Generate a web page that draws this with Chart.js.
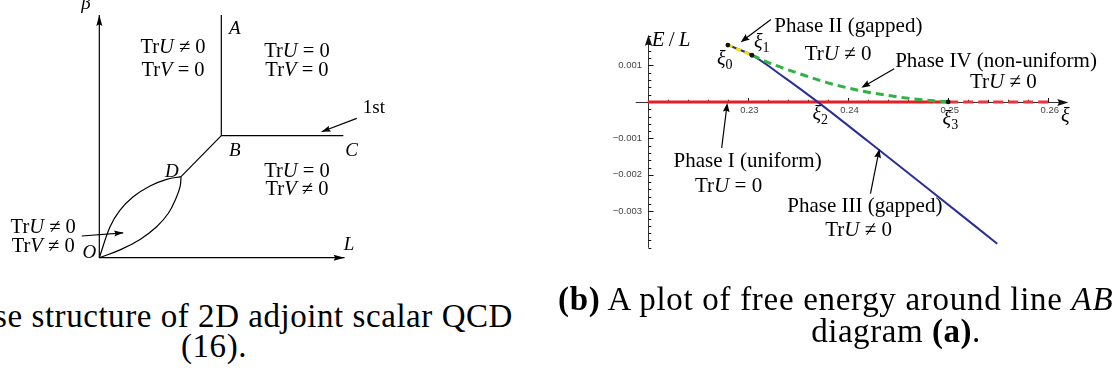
<!DOCTYPE html>
<html><head><meta charset="utf-8">
<script src="https://cdn.jsdelivr.net/npm/chart.js@4.4.0/dist/chart.umd.min.js"></script>
<style>
html,body{margin:0;padding:0;background:#fff;overflow:hidden}
#wrap{position:relative;width:1114px;height:385px;overflow:hidden;background:#fff}
canvas{position:absolute;top:0}
.cap{position:absolute;font-family:"Liberation Serif","Times New Roman",serif;font-size:33px;line-height:33px;letter-spacing:0.55px;white-space:nowrap;color:#000}
</style></head><body>
<div id="wrap">
<canvas id="diagram" width="560" height="290" style="left:0"></canvas>
<canvas id="plot" width="554" height="290" style="left:560px"></canvas>
<div class="cap" style="right:601px;top:300px"><b>(a)</b> Phase structure of 2D adjoint scalar QCD</div>
<div class="cap" style="left:0;width:428px;text-align:center;top:330px">(16).</div>
<div class="cap" style="left:558px;top:283px;letter-spacing:0.7px"><b>(b)</b> A plot of free energy around line <i>AB</i></div>
<div class="cap" style="left:796px;width:200px;text-align:center;top:315px">diagram <b>(a)</b>.</div>
</div>
<script>
// ================= DATA: phase diagram (a) (schematic units) =================
const betaAxis   = [[0,0],[0,9.95]];
const lAxis      = [[0,0],[10.05,0]];
const lineAB     = [[5,9.95],[5,5]];
const lineBC     = [[5,5],[10.0,5]];
const lineBD     = [[5,5],[3.35,3.32]];
const lensUpper  = [[0,0],[0.44,1.27],[0.85,1.95],[1.39,2.50],[2.08,2.94],[2.76,3.21],[3.35,3.32]];
const lensLower  = [[0,0],[0.85,0.32],[1.67,0.75],[2.35,1.27],[2.83,1.82],[3.14,2.43],[3.31,2.91],[3.35,3.32]];
const arrowFirst = [[10.55,5.71],[9.11,5.16]];
const arrowMixed = [[-0.72,0.89],[0.98,1.02]];

// ================= DATA: free energy plot (b) =================
const xiPhaseI     = [0.22, 0.25];
const ePhaseI      = [0, 0];
const xiPhaseIext  = [0.25, 0.2602];
const ePhaseIext   = [0, 0];
const xiPhaseII    = [0.2280, 0.2304];
const ePhaseII     = [0.00156, 0.00128];
const xiPhaseIII   = [0.2280, 0.2304, 0.2337, 0.23696, 0.2420, 0.2480, 0.2549];
const ePhaseIII    = [0.00156, 0.00128, 0.00066, 0, -0.00108, -0.00238, -0.00389];
const xiPhaseIV    = [0.2304, 0.2326, 0.2353, 0.2379, 0.2412, 0.2444, 0.2477, 0.2500];
const ePhaseIV     = [0.00128, 0.00102, 0.00076, 0.00053, 0.00031, 0.00016, 0.00005, 0];
const xiMarked     = [0.2280, 0.2304, 0.2500];
const eMarked      = [0.00156, 0.00128, 0];

const xiTicks      = [0.23, 0.24, 0.25, 0.26];
const xiTickLabels = ['0.23', '0.24', '0.25', '0.26'];
const xiMinorTicks = [0.222,0.224,0.226,0.228,0.232,0.234,0.236,0.238,0.242,0.244,0.246,0.248,0.252,0.254,0.256,0.258];
const eTicks       = [0.001, -0.001, -0.002, -0.003];
const eTickLabels  = ['0.001', '\u22120.001', '\u22120.002', '\u22120.003'];
const eMinorTicks  = [0.0018,0.0016,0.0014,0.0012,0.0008,0.0006,0.0004,0.0002,-0.0002,-0.0004,-0.0006,-0.0008,
                      -0.0012,-0.0014,-0.0016,-0.0018,-0.0022,-0.0024,-0.0026,-0.0028,-0.0032,-0.0034,-0.0036,-0.0038,-0.004];
const xiOrigin = 0.22, xiAxisFrom = 0.2188, xiAxisTo = 0.2620;
const eAxisFrom = -0.004, eAxisTo = 0.00184;

// ================= helpers =================
const SERIF = '"Liberation Serif","Times New Roman",serif';
function fnt(st, size){
  if (st === 'i') return 'italic ' + size + 'px ' + SERIF;
  if (st === 's') return Math.round(size*0.7) + 'px ' + SERIF;
  return size + 'px ' + SERIF;
}
function drawRich(ctx, parts, px, py, size, align){
  ctx.save();
  ctx.textBaseline = 'alphabetic'; ctx.textAlign = 'left'; ctx.fillStyle = '#000';
  let w = 0;
  const ws = parts.map(p => { ctx.font = fnt(p[1], size); const m = ctx.measureText(p[0]).width; w += m; return m; });
  let cx = align === 'center' ? px - w/2 : (align === 'right' ? px - w : px);
  parts.forEach((p, i) => {
    ctx.font = fnt(p[1], size);
    ctx.fillText(p[0], cx, py + (p[1] === 's' ? size*0.22 : 0));
    cx += ws[i];
  });
  ctx.restore();
}
function arrowHead(ctx, x0, y0, x1, y1, len, half, color){
  const a = Math.atan2(y1 - y0, x1 - x0);
  ctx.save(); ctx.translate(x1, y1); ctx.rotate(a);
  ctx.beginPath(); ctx.moveTo(0,0); ctx.lineTo(-len, half); ctx.lineTo(-len*0.85, 0); ctx.lineTo(-len, -half); ctx.closePath();
  ctx.fillStyle = color; ctx.fill(); ctx.restore();
}
const pairs = arr => arr.map(p => ({x:p[0], y:p[1]}));
const zip = (xs, ys) => xs.map((v, i) => ({x:v, y:ys[i]}));
const TRU_NE = [['Tr','n'],['U','i'],[' \u2260 0','n']];
const TRU_EQ = [['Tr','n'],['U','i'],[' = 0','n']];
const TRV_NE = [['Tr','n'],['V','i'],[' \u2260 0','n']];
const TRV_EQ = [['Tr','n'],['V','i'],[' = 0','n']];

// ================= chart (a) =================
const diagramLabels = [
  {x:-0.55, y:10.2, parts:[['\u03b2','i']], size:19},
  {x:5.55, y:9.16, parts:[['A','i']], size:19},
  {x:5.55, y:4.18, parts:[['B','i']], size:19},
  {x:10.34, y:4.18, parts:[['C','i']], size:19},
  {x:2.97, y:3.32, parts:[['D','i']], size:19},
  {x:-0.41, y:0.0, parts:[['O','i']], size:19},
  {x:10.23, y:0.32, parts:[['L','i']], size:19},
  {x:10.8, y:5.92, parts:[['1st','n']], size:19, align:'left'},
  {x:3.02, y:8.38, parts:TRU_NE, size:20.5},
  {x:3.02, y:7.45, parts:TRV_EQ, size:20.5},
  {x:8.10, y:8.24, parts:TRU_EQ, size:20.5},
  {x:8.10, y:7.45, parts:TRV_EQ, size:20.5},
  {x:8.10, y:3.30, parts:TRU_EQ, size:20.5},
  {x:8.10, y:2.57, parts:TRV_NE, size:20.5},
  {x:-2.30, y:1.00, parts:TRU_NE, size:20.5},
  {x:-2.30, y:0.22, parts:TRV_NE, size:20.5}
];
function lineDs(arr, extra){
  return Object.assign({data: pairs(arr), showLine:true, borderColor:'#000', borderWidth:1.2, pointRadius:0, fill:false, tension:0}, extra || {});
}
const diagramPlugin = {
  id:'diagramDeco',
  afterDatasetsDraw(chart){
    const {ctx, scales:{x, y}} = chart;
    chart.data.datasets.forEach(ds => {
      if (!ds.arrow) return;
      const d = ds.data, a = d[d.length-2], b = d[d.length-1];
      arrowHead(ctx, x.getPixelForValue(a.x), y.getPixelForValue(a.y), x.getPixelForValue(b.x), y.getPixelForValue(b.y), ds.arrow[0], ds.arrow[1], '#000');
    });
    diagramLabels.forEach(l => drawRich(ctx, l.parts, x.getPixelForValue(l.x), y.getPixelForValue(l.y), l.size, l.align || 'center'));
  }
};
new Chart(document.getElementById('diagram'), {
  type:'scatter',
  data:{datasets:[
    lineDs(betaAxis, {arrow:[11,3]}),
    lineDs(lAxis, {arrow:[11,3]}),
    lineDs(lineAB), lineDs(lineBC), lineDs(lineBD),
    lineDs(lensUpper, {tension:0.4}),
    lineDs(lensLower, {tension:0.4}),
    lineDs(arrowFirst, {arrow:[9,3]}),
    lineDs(arrowMixed, {arrow:[9,3]})
  ]},
  options:{
    responsive:false, animation:false, devicePixelRatio:1,
    layout:{padding:0},
    plugins:{legend:{display:false}, tooltip:{enabled:false}},
    scales:{
      x:{type:'linear', display:false, min:-4.07, max:18.88},
      y:{type:'linear', display:false, min:-1.324, max:10.561}
    }
  },
  plugins:[diagramPlugin]
});

// ================= chart (b) =================
const plotLabels = [
  {x:0.24003, y:0.001904, parts:[['Phase II (gapped)','n']], size:21},
  {x:0.23900, y:0.001157, parts:TRU_NE, size:21},
  {x:0.25478, y:0.000952, parts:[['Phase IV (non-uniform)','n']], size:21},
  {x:0.25551, y:0.000392, parts:TRU_NE, size:21},
  {x:0.22997, y:-0.001787, parts:[['Phase I (uniform)','n']], size:21},
  {x:0.22807, y:-0.002469, parts:TRU_EQ, size:21},
  {x:0.24168, y:-0.003029, parts:[['Phase III (gapped)','n']], size:21},
  {x:0.24106, y:-0.003669, parts:TRU_NE, size:21},
  {x:0.22768, y:0.001024, parts:[['\u03be','i'],['0','s']], size:20},
  {x:0.23139, y:0.001485, parts:[['\u03be','i'],['1','s']], size:20},
  {x:0.23722, y:-0.000496, parts:[['\u03be','i'],['2','s']], size:20},
  {x:0.25022, y:-0.000621, parts:[['\u03be','i'],['3','s']], size:20},
  {x:0.26170, y:-0.00056, parts:[['\u03be','i']], size:20},
  {x:0.22039, y:0.00153, parts:[['E','i'],['\u2009/\u2009','n'],['L','i']], size:21, align:'left'}
];
const plotArrows = [
  [[0.23230, 0.002259],[0.22928, 0.001637]],
  [[0.24461, 0.000907],[0.24133, 0.000392]],
  [[0.22738, -0.001261],[0.22794, -0.00003]],
  [[0.24224, -0.002515],[0.24313, -0.001288]]
];
const plotAxes = {
  id:'plotAxes',
  beforeDatasetsDraw(chart){
    const {ctx, scales:{x, y}} = chart;
    const X0 = Math.round(x.getPixelForValue(xiOrigin)) + 0.5;
    const Y0 = Math.round(y.getPixelForValue(0)) + 0.5;
    ctx.save();
    ctx.strokeStyle = '#333'; ctx.lineWidth = 1;
    ctx.beginPath();
    ctx.moveTo(x.getPixelForValue(xiAxisFrom), Y0); ctx.lineTo(x.getPixelForValue(xiAxisTo) - 5, Y0);
    ctx.moveTo(X0, y.getPixelForValue(eAxisFrom)); ctx.lineTo(X0, y.getPixelForValue(eAxisTo) + 5);
    ctx.stroke();
    ctx.strokeStyle = '#111';
    ctx.beginPath();
    xiTicks.forEach(v => { const p = Math.round(x.getPixelForValue(v)) + 0.5; ctx.moveTo(p, Y0); ctx.lineTo(p, Y0 - 4.5); });
    xiMinorTicks.forEach(v => { const p = Math.round(x.getPixelForValue(v)) + 0.5; ctx.moveTo(p, Y0); ctx.lineTo(p, Y0 - 2.7); });
    eTicks.forEach(v => { const p = Math.round(y.getPixelForValue(v)) + 0.5; ctx.moveTo(X0, p); ctx.lineTo(X0 + 5, p); });
    eMinorTicks.forEach(v => { const p = Math.round(y.getPixelForValue(v)) + 0.5; ctx.moveTo(X0, p); ctx.lineTo(X0 + 2.8, p); });
    ctx.stroke();
    ctx.fillStyle = '#444'; ctx.font = '9.5px "Liberation Sans", Arial, sans-serif';
    ctx.textAlign = 'center'; ctx.textBaseline = 'alphabetic';
    xiTicks.forEach((v, i) => ctx.fillText(xiTickLabels[i], x.getPixelForValue(v) + 1.5, Y0 + 10.5));
    ctx.textAlign = 'right'; ctx.textBaseline = 'middle';
    eTicks.forEach((v, i) => ctx.fillText(eTickLabels[i], X0 - 6.5, y.getPixelForValue(v)));
    ctx.restore();
  },
  afterDatasetsDraw(chart){
    const {ctx, scales:{x, y}} = chart;
    const X0 = Math.round(x.getPixelForValue(xiOrigin)) + 0.5;
    const Y0 = Math.round(y.getPixelForValue(0)) + 0.5;
    arrowHead(ctx, 0, Y0, x.getPixelForValue(xiAxisTo), Y0, 11, 3.6, '#111');
    arrowHead(ctx, X0, 300, X0, y.getPixelForValue(eAxisTo), 11, 3.6, '#111');
    ctx.save(); ctx.strokeStyle = '#000'; ctx.lineWidth = 1.2;
    plotArrows.forEach(a => {
      const x0 = x.getPixelForValue(a[0][0]), y0 = y.getPixelForValue(a[0][1]);
      const x1 = x.getPixelForValue(a[1][0]), y1 = y.getPixelForValue(a[1][1]);
      ctx.beginPath(); ctx.moveTo(x0, y0); ctx.lineTo(x1 - (x1-x0)*0.05, y1 - (y1-y0)*0.05); ctx.stroke();
      arrowHead(ctx, x0, y0, x1, y1, 9, 3.4, '#000');
    });
    ctx.restore();
    plotLabels.forEach(l => drawRich(ctx, l.parts, x.getPixelForValue(l.x), y.getPixelForValue(l.y), l.size, l.align || 'center'));
  }
};
new Chart(document.getElementById('plot'), {
  type:'scatter',
  data:{datasets:[
    {label:'marked', data:zip(xiMarked, eMarked), showLine:false, pointRadius:2.4, pointBackgroundColor:'#111', pointBorderWidth:0, order:0},
    {label:'Phase II', data:zip(xiPhaseII, ePhaseII), showLine:true, borderColor:'#f2e200', borderWidth:3, borderDash:[5,4], pointRadius:0, order:1},
    {label:'Phase IV', data:zip(xiPhaseIV, ePhaseIV), showLine:true, borderColor:'#2fb344', borderWidth:3, borderDash:[8,5], pointRadius:0, cubicInterpolationMode:'monotone', order:2},
    {label:'Phase III', data:zip(xiPhaseIII, ePhaseIII), showLine:true, borderColor:'#2a2e96', borderWidth:2, pointRadius:0, cubicInterpolationMode:'monotone', order:3},
    {label:'Phase I', data:zip(xiPhaseI, ePhaseI), showLine:true, borderColor:'#ea1c24', borderWidth:3, pointRadius:0, order:4},
    {label:'Phase I ext', data:zip(xiPhaseIext, ePhaseIext), showLine:true, borderColor:'#f0323a', borderWidth:3, borderDash:[10,5], pointRadius:0, order:5}
  ]},
  options:{
    responsive:false, animation:false, devicePixelRatio:1,
    layout:{padding:0},
    plugins:{legend:{display:false}, tooltip:{enabled:false}},
    scales:{
      x:{type:'linear', display:false, min:0.211634, max:0.266161},
      y:{type:'linear', display:false, min:-0.005048, max:0.0026853}
    }
  },
  plugins:[plotAxes]
});
</script>
</body></html>
